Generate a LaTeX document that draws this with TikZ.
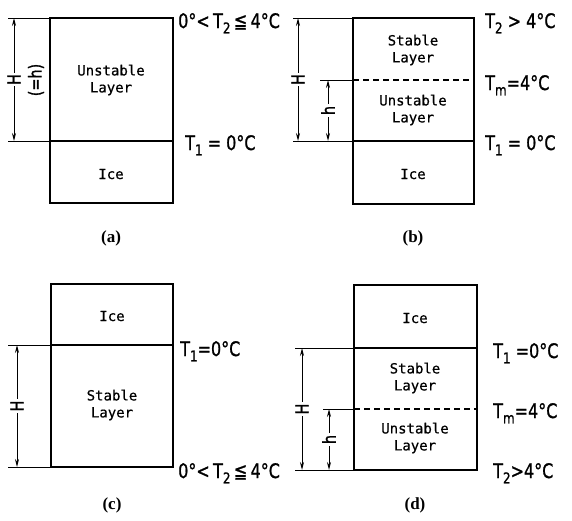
\documentclass[tikz,border=0pt]{standalone}
\usepackage{fontspec}
\setmainfont{Liberation Serif}
\newfontfamily\tempfont[FakeStretch=0.8, FakeBold=1]{DejaVu Sans}
\newfontfamily\layerfont[FakeBold=0.6]{DejaVu Sans Mono}
\usetikzlibrary{arrows.meta}
\newcommand{\tsub}[1]{T\raisebox{-0.5ex}{\fontsize{15}{15}\selectfont #1}}

\tikzset{
    BOX/.style={draw=black, line width=1.8pt},
    SPLIT/.style={draw=black, line width=1.8pt},
    DASHED_SPLIT/.style={draw=black, line width=1.8pt, dash pattern=on 6pt off 4pt},
    GUIDE/.style={draw=black, line width=0.9pt},
    DIM_ARROW/.style={draw=black, line width=1pt,
        {Stealth[length=8pt,width=4pt]}-{Stealth[length=8pt,width=4pt]}},
    DIM_LABEL/.style={fill=white, rotate=90, inner sep=1.5pt,
        font=\tempfont\fontsize{18}{18}\selectfont},
    LAYER_TEXT/.style={align=center, font=\layerfont\fontsize{14}{17}\selectfont},
    TEMP_TEXT/.style={anchor=base west, inner sep=0pt,
        font=\tempfont\fontsize{20}{20}\selectfont},
    CAPTION/.style={font=\bfseries\fontsize{17}{17}\selectfont}
}
\pgfdeclarelayer{edgelayer}
\pgfdeclarelayer{nodelayer}
\pgfsetlayers{edgelayer,main,nodelayer}

\begin{document}
\begin{tikzpicture}[x=1pt, y=-1pt]
    \useasboundingbox (0,0) rectangle (572,520);
    % (a)
    \coordinate (a_tl) at (50,18);
    \coordinate (a_br) at (173,203);
    \coordinate (a_ml) at (50,141);
    \coordinate (a_mr) at (173,141);
    \coordinate (a_gt) at (8,18);
    \coordinate (a_gb) at (8,141);
    \coordinate (a_Ht) at (14,18);
    \coordinate (a_Hb) at (14,141);
    % (b)
    \coordinate (b_tl) at (353,18);
    \coordinate (b_br) at (474,204);
    \coordinate (b_dl) at (353,80);
    \coordinate (b_dr) at (474,80);
    \coordinate (b_ml) at (353,141);
    \coordinate (b_mr) at (474,141);
    \coordinate (b_gt) at (293,18);
    \coordinate (b_gd) at (320,80);
    \coordinate (b_gb) at (293,141);
    \coordinate (b_Ht) at (298,18);
    \coordinate (b_Hb) at (298,141);
    \coordinate (b_ht) at (328,80);
    \coordinate (b_hb) at (328,141);
    % (c)
    \coordinate (c_tl) at (51,284);
    \coordinate (c_br) at (173,467);
    \coordinate (c_ml) at (51,345);
    \coordinate (c_mr) at (173,345);
    \coordinate (c_bl) at (51,467);
    \coordinate (c_gt) at (8,345);
    \coordinate (c_gb) at (8,467);
    \coordinate (c_Ht) at (17,345);
    \coordinate (c_Hb) at (17,467);
    % (d)
    \coordinate (d_tl) at (354,285);
    \coordinate (d_br) at (477,470);
    \coordinate (d_ml) at (354,348);
    \coordinate (d_mr) at (477,348);
    \coordinate (d_dl) at (354,409);
    \coordinate (d_dr) at (477,409);
    \coordinate (d_bl) at (354,470);
    \coordinate (d_gt) at (295,348);
    \coordinate (d_gd) at (323,409);
    \coordinate (d_gb) at (295,470);
    \coordinate (d_Ht) at (302,348);
    \coordinate (d_Hb) at (302,470);
    \coordinate (d_ht) at (329,409);
    \coordinate (d_hb) at (329,470);

    \begin{pgfonlayer}{nodelayer}
        \node [LAYER_TEXT] (a_unstable) at (111,80) {Unstable\\Layer};
        \node [LAYER_TEXT] (a_ice) at (111,174) {Ice};
        \node [TEMP_TEXT] (a_t2) at (178,28) {0°<\,\tsub{2}\,≦\,4°C};
        \node [TEMP_TEXT] (a_t1) at (185,150) {\tsub{1} = 0°C};
        \node [DIM_LABEL] (a_eqh) at (36,80) {(=h)};
        \node [CAPTION] (a_cap) at (111,238) {(a)};

        \node [LAYER_TEXT] (b_stable) at (413,50) {Stable\\Layer};
        \node [LAYER_TEXT] (b_unstable) at (413,110) {Unstable\\Layer};
        \node [LAYER_TEXT] (b_ice) at (413,174) {Ice};
        \node [TEMP_TEXT] (b_t2) at (485,28) {\tsub{2} > 4°C};
        \node [TEMP_TEXT] (b_tm) at (485,90) {\tsub{m}=4°C};
        \node [TEMP_TEXT] (b_t1) at (485,150) {\tsub{1} = 0°C};
        \node [CAPTION] (b_cap) at (413,238) {(b)};

        \node [LAYER_TEXT] (c_ice) at (112,316) {Ice};
        \node [LAYER_TEXT] (c_stable) at (112,405) {Stable\\Layer};
        \node [TEMP_TEXT] (c_t1) at (180,356) {\tsub{1}=0°C};
        \node [TEMP_TEXT] (c_t2) at (178,478) {0°<\,\tsub{2}\,≦\,4°C};
        \node [CAPTION] (c_cap) at (112,505) {(c)};

        \node [LAYER_TEXT] (d_ice) at (415,318) {Ice};
        \node [LAYER_TEXT] (d_stable) at (415,378) {Stable\\Layer};
        \node [LAYER_TEXT] (d_unstable) at (415,438) {Unstable\\Layer};
        \node [TEMP_TEXT] (d_t1) at (493,358) {\tsub{1} =0°C};
        \node [TEMP_TEXT] (d_tm) at (493,418) {\tsub{m}=4°C};
        \node [TEMP_TEXT] (d_t2) at (493,478) {\tsub{2}>4°C};
        \node [CAPTION] (d_cap) at (415,505) {(d)};
    \end{pgfonlayer}

    \begin{pgfonlayer}{edgelayer}
        \draw[BOX] (a_tl) rectangle (a_br);
        \draw[SPLIT] (a_ml) to (a_mr);
        \draw[GUIDE] (a_gt) to (a_tl);
        \draw[GUIDE] (a_gb) to (a_ml);

        \draw[BOX] (b_tl) rectangle (b_br);
        \draw[DASHED_SPLIT] (b_dl) to (b_dr);
        \draw[SPLIT] (b_ml) to (b_mr);
        \draw[GUIDE] (b_gt) to (b_tl);
        \draw[GUIDE] (b_gd) to (b_dl);
        \draw[GUIDE] (b_gb) to (b_ml);

        \draw[BOX] (c_tl) rectangle (c_br);
        \draw[SPLIT] (c_ml) to (c_mr);
        \draw[GUIDE] (c_gt) to (c_ml);
        \draw[GUIDE] (c_gb) to (c_bl);

        \draw[BOX] (d_tl) rectangle (d_br);
        \draw[SPLIT] (d_ml) to (d_mr);
        \draw[DASHED_SPLIT] (d_dl) to (d_dr);
        \draw[GUIDE] (d_gt) to (d_ml);
        \draw[GUIDE] (d_gd) to (d_dl);
        \draw[GUIDE] (d_gb) to (d_bl);
    \end{pgfonlayer}

    \draw[DIM_ARROW] (a_Ht) to node[DIM_LABEL] {H} (a_Hb);
    \draw[DIM_ARROW] (b_Ht) to node[DIM_LABEL] {H} (b_Hb);
    \draw[DIM_ARROW] (b_ht) to node[DIM_LABEL] {h} (b_hb);
    \draw[DIM_ARROW] (c_Ht) to node[DIM_LABEL] {H} (c_Hb);
    \draw[DIM_ARROW] (d_Ht) to node[DIM_LABEL] {H} (d_Hb);
    \draw[DIM_ARROW] (d_ht) to node[DIM_LABEL] {h} (d_hb);
\end{tikzpicture}
\end{document}
